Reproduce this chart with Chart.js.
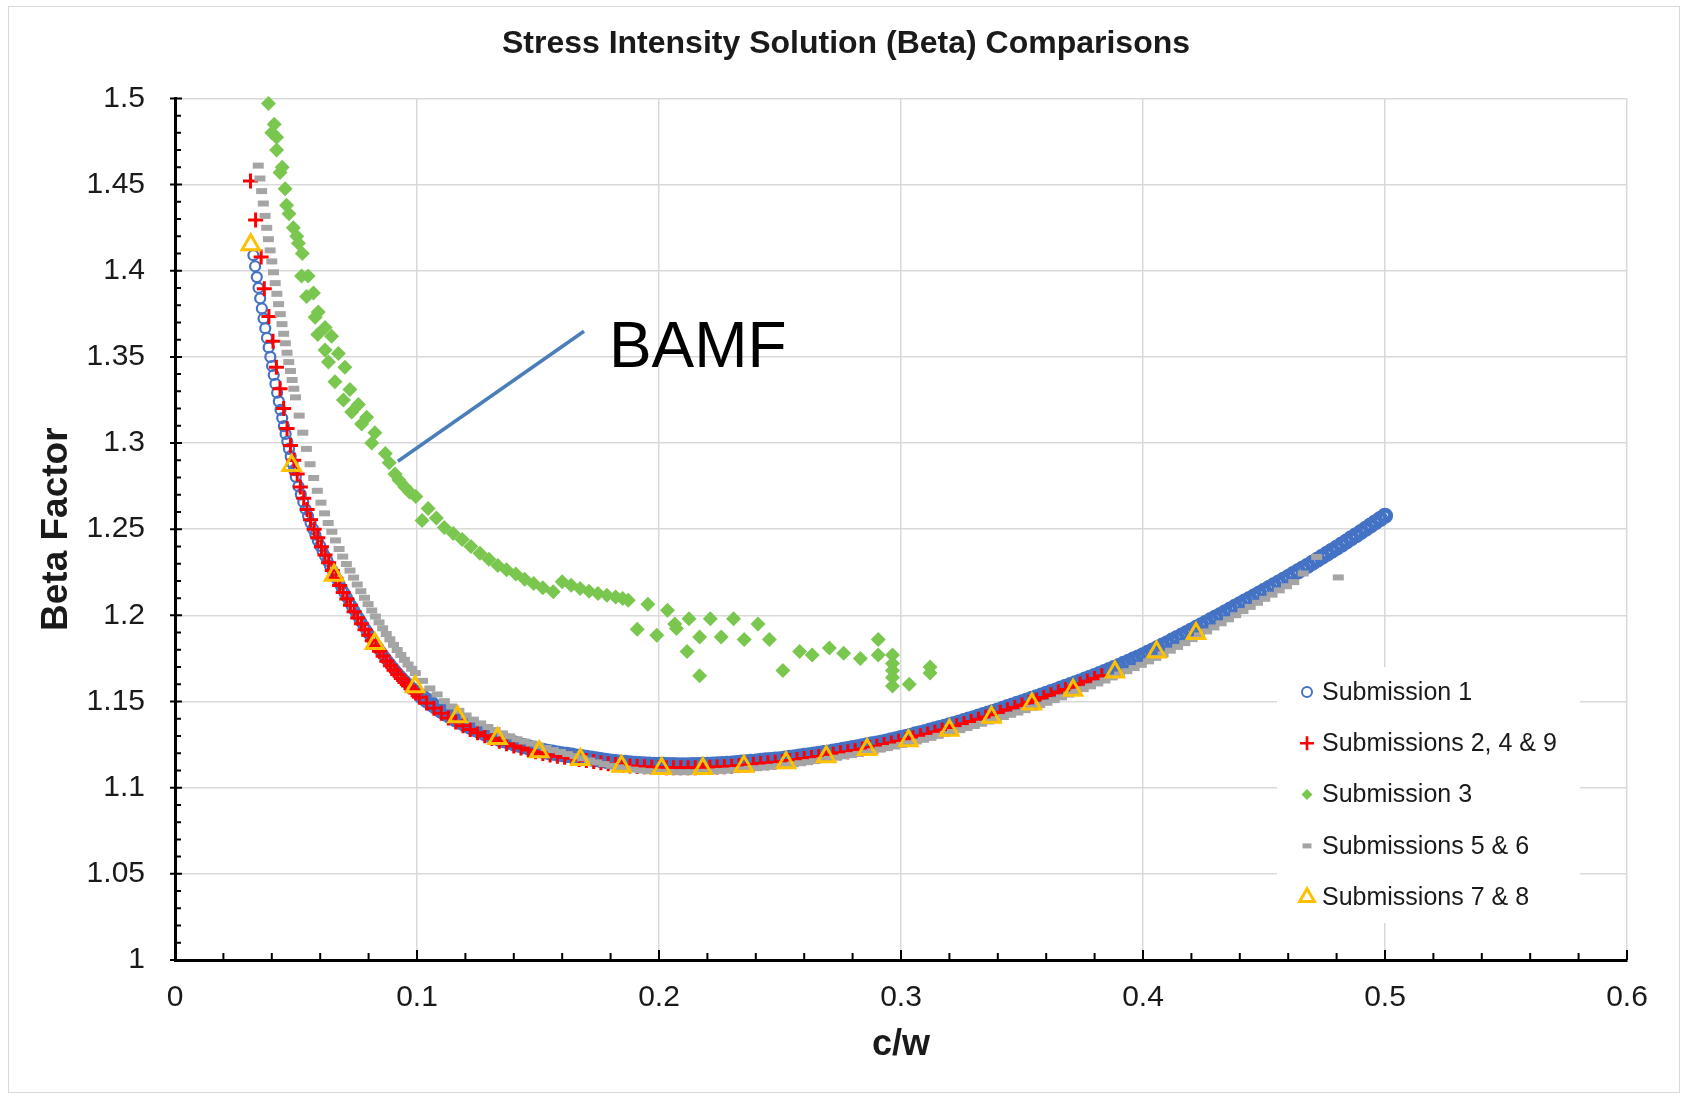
<!DOCTYPE html>
<html>
<head>
<meta charset="utf-8">
<title>Stress Intensity Solution (Beta) Comparisons</title>
<script src="https://cdn.jsdelivr.net/npm/chart.js@4.4.1/dist/chart.umd.min.js"></script>
<style>
  html, body { margin: 0; padding: 0; background: #fff; }
  #wrap { position: relative; width: 1686px; height: 1097px; }
  #frame { position: absolute; left: 8px; top: 6px; width: 1672px; height: 1087px; border: 1.5px solid #d9d9d9; box-sizing: border-box; pointer-events: none; }
  canvas { position: absolute; left: 0; top: 0; }
</style>
</head>
<body>
<div id="wrap">
  <canvas id="betaChart" width="1686" height="1097"></canvas>
  <div id="frame"></div>
</div>
<script>
// values: [c/w, beta]
const xTicks = [0, 0.1, 0.2, 0.3, 0.4, 0.5, 0.6];
const yTicks = [1, 1.05, 1.1, 1.15, 1.2, 1.25, 1.3, 1.35, 1.4, 1.45, 1.5];
const seriesNames = ['Submission 1', 'Submissions 2, 4 & 9', 'Submission 3', 'Submissions 5 & 6', 'Submissions 7 & 8'];

const sub1 = [
  [0.0324,1.409],[0.0331,1.4026],[0.0338,1.3963],[0.0345,1.3901],[0.0352,1.384],[0.0359,1.3781],[0.0366,1.3723],[0.0373,1.3666],[0.038,1.361],[0.0387,1.3555],[0.0394,1.35],[0.0401,1.3447],[0.0408,1.3395],[0.0415,1.3343],[0.0422,1.3292],[0.0429,1.3242],[0.0436,1.3193],[0.0443,1.3145],[0.045,1.3098],[0.0457,1.3053],[0.0464,1.3009],[0.0471,1.2966],[0.0478,1.2924],[0.0485,1.2883],[0.0492,1.2843],[0.0499,1.2804],
  [0.051,1.2749],[0.052,1.2702],[0.053,1.2658],[0.054,1.2616],[0.055,1.2576],[0.056,1.2538],[0.057,1.2502],[0.058,1.2468],[0.059,1.2435],[0.06,1.2403],[0.061,1.2373],[0.062,1.2344],[0.063,1.2316],[0.064,1.2289],[0.065,1.2263],[0.066,1.2236],[0.067,1.2209],[0.068,1.2182],[0.069,1.2156],[0.07,1.213],[0.071,1.2105],[0.072,1.208],[0.073,1.2055],[0.074,1.2031],[0.075,1.2007],[0.076,1.1984],[0.077,1.1961],[0.078,1.1938],[0.079,1.1916],[0.08,1.1894],[0.081,1.1873],[0.082,1.1852],[0.083,1.1831],[0.084,1.1811],[0.085,1.1791],[0.086,1.1772],[0.087,1.1753],[0.088,1.1735],[0.089,1.1717],[0.09,1.17],[0.091,1.1683],[0.092,1.1667],[0.093,1.1651],[0.094,1.1636],[0.095,1.1621],[0.096,1.1607],[0.097,1.1593],[0.098,1.1579],[0.099,1.1566],[0.1,1.1553],
  [0.102,1.1529],[0.104,1.1507],[0.106,1.1486],[0.108,1.1466],[0.11,1.1447],[0.112,1.1429],[0.114,1.1412],[0.116,1.1396],[0.118,1.1381],[0.12,1.1367],[0.122,1.1353],[0.124,1.134],[0.126,1.1328],[0.128,1.1316],[0.13,1.1305],[0.132,1.1294],[0.134,1.1284],[0.136,1.1275],[0.138,1.1266],[0.14,1.1257],[0.142,1.1249],[0.144,1.1241],[0.146,1.1234],[0.148,1.1227],[0.15,1.122],[0.152,1.1214],[0.154,1.1208],[0.156,1.1203],[0.158,1.1198],[0.16,1.1194],[0.162,1.119],[0.164,1.1186],[0.166,1.1181],[0.168,1.1177],[0.17,1.1173],[0.172,1.1169],[0.174,1.1165],[0.176,1.116],[0.178,1.1156],[0.18,1.1152],[0.182,1.1149],[0.184,1.1146],[0.186,1.1144],[0.188,1.1141],[0.19,1.1138],[0.192,1.1137],[0.194,1.1136],[0.196,1.1134],[0.198,1.1133],[0.2,1.1132],
  [0.202,1.1132],[0.204,1.1131],[0.206,1.1131],[0.208,1.113],[0.21,1.113],[0.212,1.113],[0.214,1.1131],[0.216,1.1131],[0.218,1.1132],[0.22,1.1132],[0.222,1.1134],[0.224,1.1135],[0.226,1.1137],[0.228,1.1138],[0.23,1.114],[0.232,1.1142],[0.234,1.1145],[0.236,1.1147],[0.238,1.115],[0.24,1.1152],[0.242,1.1155],[0.244,1.1158],[0.246,1.116],[0.248,1.1163],[0.25,1.1165],[0.252,1.1169],[0.254,1.1173],[0.256,1.1176],[0.258,1.118],[0.26,1.1184],[0.262,1.1188],[0.264,1.1192],[0.266,1.1196],[0.268,1.12],[0.27,1.1204],[0.272,1.1209],[0.274,1.1214],[0.276,1.1219],[0.278,1.1224],[0.28,1.1229],[0.282,1.1234],[0.284,1.124],[0.286,1.1245],[0.288,1.1251],[0.29,1.1256],[0.292,1.1262],[0.294,1.1268],[0.296,1.1275],[0.298,1.1281],[0.3,1.1287],
  [0.302,1.1294],[0.304,1.1301],[0.306,1.1309],[0.308,1.1316],[0.31,1.1323],[0.312,1.1331],[0.314,1.1338],[0.316,1.1346],[0.318,1.1353],[0.32,1.1361],[0.322,1.1369],[0.324,1.1378],[0.326,1.1386],[0.328,1.1395],[0.33,1.1403],[0.332,1.1412],[0.334,1.1421],[0.336,1.143],[0.338,1.1439],[0.34,1.1448],[0.342,1.1457],[0.344,1.1467],[0.346,1.1476],[0.348,1.1486],[0.35,1.1495],[0.352,1.1505],[0.354,1.1515],[0.356,1.1524],[0.358,1.1534],[0.36,1.1544],[0.362,1.1554],[0.364,1.1564],[0.366,1.1575],[0.368,1.1585],[0.37,1.1595],[0.372,1.1606],[0.374,1.1616],[0.376,1.1627],[0.378,1.1637],[0.38,1.1648],[0.382,1.1659],[0.384,1.1671],[0.386,1.1682],[0.388,1.1694],[0.39,1.1705],[0.392,1.1718],[0.394,1.173],[0.396,1.1743],[0.398,1.1755],[0.4,1.1768],
  [0.402,1.1782],[0.404,1.1796],[0.406,1.181],[0.408,1.1824],[0.41,1.1838],[0.412,1.1853],[0.414,1.1868],[0.416,1.1882],[0.418,1.1897],[0.42,1.1912],[0.422,1.1927],[0.424,1.1942],[0.426,1.1957],[0.428,1.1972],[0.43,1.1987],[0.432,1.2002],[0.434,1.2018],[0.436,1.2033],[0.438,1.2049],[0.44,1.2064],[0.442,1.208],[0.444,1.2095],[0.446,1.2111],[0.448,1.2126],[0.45,1.2142],[0.452,1.2158],[0.454,1.2174],[0.456,1.219],[0.458,1.2206],[0.46,1.2222],[0.462,1.2239],[0.464,1.2255],[0.466,1.2272],[0.468,1.2288],[0.47,1.2305],[0.472,1.2322],[0.474,1.234],[0.476,1.2357],[0.478,1.2375],[0.48,1.2392],[0.482,1.241],[0.484,1.2428],[0.486,1.2447],[0.488,1.2465],[0.49,1.2483],[0.492,1.2502],[0.494,1.2521],[0.496,1.254],[0.498,1.2559],[0.5,1.2578]
];

const sub249 = [
  [0.0312,1.452],[0.0333,1.4295],[0.0356,1.408],[0.0369,1.3895],[0.0388,1.3735],[0.0405,1.359],[0.0419,1.344],[0.0434,1.3315],[0.0449,1.32],[0.0463,1.3085],[0.0477,1.2985],[0.0491,1.29],[0.0505,1.282],[0.0518,1.2745],[0.0532,1.268],[0.0546,1.2615],[0.056,1.2555],[0.0575,1.25],
  [0.059,1.245],[0.0605,1.2398],[0.062,1.235],[0.0635,1.2305],[0.065,1.226],[0.0665,1.2215],[0.068,1.2173],[0.0695,1.2133],[0.071,1.2095],[0.0725,1.2058],[0.074,1.2021],[0.0755,1.1985],[0.077,1.1951],[0.0785,1.1917],[0.08,1.1884],[0.0815,1.1852],[0.083,1.1821],[0.0845,1.1791],[0.086,1.1762],[0.0875,1.1734],[0.089,1.1707],[0.0905,1.1681],[0.092,1.1657],[0.0935,1.1633],[0.095,1.1611],[0.0965,1.159],[0.098,1.1569],[0.0995,1.155],
  [0.101,1.1525],[0.104,1.1492],[0.107,1.1461],[0.11,1.1432],[0.113,1.1405],[0.116,1.1381],[0.119,1.1359],[0.122,1.1338],[0.125,1.1319],[0.128,1.1301],[0.131,1.1285],[0.134,1.1269],[0.137,1.1255],[0.14,1.1242],[0.143,1.123],[0.146,1.1219],[0.149,1.1208],[0.152,1.1199],[0.155,1.119],[0.158,1.1183],[0.161,1.1177],[0.164,1.1171],[0.167,1.1164],[0.17,1.1158],[0.173,1.1152],[0.176,1.1145],[0.179,1.1139],[0.182,1.1134],[0.185,1.113],[0.188,1.1126],[0.191,1.1123],[0.194,1.1121],[0.197,1.1119],[0.2,1.1117],
  [0.203,1.1116],[0.206,1.1116],[0.209,1.1115],[0.212,1.1115],[0.215,1.1116],[0.218,1.1117],[0.221,1.1118],[0.224,1.112],[0.227,1.1122],[0.23,1.1125],[0.233,1.1128],[0.236,1.1132],[0.239,1.1136],[0.242,1.114],[0.245,1.1144],[0.248,1.1148],[0.251,1.1152],[0.254,1.1158],[0.257,1.1163],[0.26,1.1169],[0.263,1.1175],[0.266,1.1181],[0.269,1.1187],[0.272,1.1194],[0.275,1.1202],[0.278,1.1209],[0.281,1.1216],[0.284,1.1225],[0.287,1.1233],[0.29,1.1241],[0.293,1.125],[0.296,1.126],[0.299,1.1269],
  [0.302,1.1279],[0.305,1.129],[0.308,1.1301],[0.311,1.1312],[0.314,1.1323],[0.317,1.1335],[0.32,1.1346],[0.323,1.1359],[0.326,1.1371],[0.329,1.1384],[0.332,1.1397],[0.335,1.141],[0.338,1.1424],[0.341,1.1438],[0.344,1.1452],[0.347,1.1466],[0.35,1.148],[0.353,1.1495],[0.356,1.1509],[0.359,1.1524],[0.362,1.1539],[0.365,1.1555],[0.368,1.157],[0.371,1.1585],[0.374,1.1601],[0.377,1.1617],[0.38,1.1633],[0.383,1.165]
];

const sub3 = [
  [0.0386,1.497],[0.04,1.48],[0.041,1.485],[0.042,1.4775],[0.042,1.47],[0.0434,1.457],[0.0443,1.46],[0.0455,1.4476],[0.0461,1.438],[0.0471,1.433],[0.0489,1.425],[0.0503,1.42],[0.051,1.416],[0.0526,1.41],[0.0523,1.397],[0.055,1.397],[0.0544,1.385],[0.0572,1.387],[0.0579,1.373],[0.0592,1.376],[0.059,1.363],[0.062,1.367],[0.062,1.354],[0.0647,1.362],[0.0634,1.347],[0.0675,1.352],[0.0661,1.3355],[0.0702,1.344],[0.0696,1.325],[0.0723,1.331],[0.073,1.318],[0.0758,1.3224],[0.0771,1.311],[0.0792,1.315],[0.0813,1.3],[0.0826,1.306],[0.0869,1.294],[0.0885,1.2885],[0.0909,1.282],[0.0925,1.2785],[0.095,1.2745],[0.097,1.2715],[0.0995,1.269],
  [0.1021,1.255],[0.1046,1.262],[0.108,1.2565],[0.1113,1.251],[0.115,1.2475],[0.1187,1.244],[0.1223,1.24],[0.126,1.236],[0.1297,1.2325],[0.1334,1.229],[0.137,1.2265],[0.1408,1.224],[0.1445,1.221],[0.1482,1.2185],[0.152,1.216],[0.1563,1.2137],[0.16,1.2195],[0.1637,1.2175],[0.1674,1.2156],[0.1711,1.214],[0.1748,1.2127],[0.1785,1.2117],[0.1821,1.2107],[0.185,1.2098],[0.1873,1.2088],
  [0.191,1.192],[0.1954,1.2065],[0.1991,1.1885],[0.2035,1.203],[0.2065,1.195],[0.2072,1.1924],[0.2116,1.179],[0.2124,1.198],[0.2168,1.1875],[0.2168,1.165],[0.2212,1.198],[0.2257,1.1875],[0.2308,1.198],[0.2352,1.186],[0.2409,1.195],[0.2456,1.186],[0.2512,1.168],[0.2581,1.179],[0.2633,1.177],[0.2704,1.181],[0.2763,1.178],[0.2832,1.175],[0.2906,1.186],[0.2906,1.177],[0.2965,1.177],[0.2965,1.172],[0.2965,1.168],[0.2965,1.164],[0.2965,1.159],[0.3034,1.16],[0.312,1.17],[0.312,1.1665]
];

const sub56 = [
  [0.0344,1.461],[0.0351,1.4535],[0.0358,1.4462],[0.0365,1.439],[0.0372,1.4318],[0.0379,1.4249],[0.0386,1.4183],[0.0393,1.4118],[0.04,1.4054],[0.0407,1.3991],[0.0414,1.3928],[0.0421,1.3866],[0.0428,1.3806],[0.0435,1.3748],[0.0442,1.369],[0.0449,1.3634],[0.0456,1.3579],[0.0463,1.3524],[0.047,1.347],[0.0477,1.3418],[0.0484,1.3366],[0.0491,1.3315],[0.0498,1.3265],
  [0.0513,1.3159],[0.0528,1.306],[0.0543,1.2966],[0.0558,1.2877],[0.0573,1.2797],[0.0588,1.2723],[0.0603,1.2654],[0.0618,1.2592],[0.0633,1.2536],[0.0648,1.2485],[0.0663,1.2435],[0.0678,1.2385],[0.0693,1.2341],[0.0708,1.2298],[0.0723,1.226],[0.0738,1.2219],[0.0753,1.2179],[0.0768,1.214],[0.0783,1.2102],[0.0798,1.2065],[0.0813,1.2028],[0.0828,1.1993],[0.0843,1.1959],[0.0858,1.1925],[0.0873,1.1892],[0.0888,1.1861],[0.0903,1.1829],[0.0918,1.1799],[0.0933,1.177],[0.0948,1.1742],[0.0963,1.1715],[0.0978,1.169],[0.0993,1.1665],
  [0.1023,1.162],[0.1053,1.1576],[0.1083,1.1541],[0.1113,1.1502],[0.1143,1.1471],[0.1173,1.1446],[0.1203,1.1419],[0.1233,1.1395],[0.1263,1.1373],[0.1293,1.1352],[0.1323,1.1334],[0.1353,1.1315],[0.1383,1.1298],[0.1413,1.1281],[0.1443,1.1268],[0.1473,1.1256],[0.1503,1.1243],[0.1533,1.123],[0.1563,1.1218],[0.1593,1.1207],[0.1623,1.1195],[0.1653,1.1183],[0.1683,1.117],[0.1713,1.1158],[0.1743,1.1147],[0.1773,1.1137],[0.1803,1.1127],[0.1833,1.1118],[0.1863,1.1111],[0.1893,1.1105],[0.1923,1.11],[0.1953,1.1096],[0.1983,1.1093],
  [0.2013,1.1092],[0.2043,1.1091],[0.2073,1.109],[0.2103,1.109],[0.2133,1.109],[0.2163,1.1091],[0.2193,1.1092],[0.2223,1.1094],[0.2253,1.1097],[0.2283,1.1099],[0.2313,1.1102],[0.2343,1.1106],[0.2373,1.111],[0.2403,1.1113],[0.2433,1.1117],[0.2463,1.1121],[0.2493,1.1125],[0.2523,1.113],[0.2553,1.1136],[0.2583,1.1142],[0.2613,1.1148],[0.2643,1.1154],[0.2673,1.116],[0.2703,1.1167],[0.2733,1.1174],[0.2763,1.1182],[0.2793,1.1189],[0.2823,1.1196],[0.2853,1.1204],[0.2883,1.1212],[0.2913,1.1221],[0.2943,1.123],[0.2973,1.1239],
  [0.3003,1.1248],[0.3033,1.1258],[0.3063,1.1268],[0.3093,1.1278],[0.3123,1.1289],[0.3153,1.1301],[0.3183,1.1312],[0.3213,1.1323],[0.3243,1.1334],[0.3273,1.1346],[0.3303,1.1358],[0.3333,1.1371],[0.3363,1.1384],[0.3393,1.1397],[0.3423,1.141],[0.3453,1.1423],[0.3483,1.1436],[0.3513,1.145],[0.3543,1.1464],[0.3573,1.1479],[0.3603,1.1493],[0.3633,1.1508],[0.3663,1.1524],[0.3693,1.154],[0.3723,1.1556],[0.3753,1.1572],[0.3783,1.1588],[0.3813,1.1605],[0.3843,1.1622],[0.3873,1.164],[0.3903,1.1657],[0.3933,1.1676],[0.3963,1.1694],[0.3993,1.1713],
  [0.4023,1.1733],[0.4053,1.1753],[0.4083,1.1774],[0.4113,1.1795],[0.4143,1.1817],[0.4173,1.1839],[0.4203,1.1862],[0.4233,1.1884],[0.4263,1.1907],[0.4293,1.193],[0.4323,1.1954],[0.4353,1.1977],[0.4383,1.2001],[0.4413,1.2025],[0.4443,1.2049],[0.4473,1.2073],[0.4503,1.2096],[0.4533,1.212],[0.4563,1.2145],[0.4593,1.2169],[0.4623,1.2193],[0.4662,1.2243],[0.4718,1.2339],[0.4807,1.222]
];

const sub78 = [
  [0.0313,1.415],[0.0482,1.287],[0.0657,1.2233],[0.0826,1.1837],[0.0992,1.1585],[0.1168,1.1411],[0.1333,1.1286],[0.1505,1.1208],[0.1675,1.1164],[0.1845,1.1125],[0.2011,1.1112],[0.2181,1.1112],
  [0.2351,1.1125],[0.2525,1.1145],[0.2691,1.1179],[0.286,1.1222],[0.3031,1.1272],[0.32,1.1334],[0.3374,1.1408],[0.3541,1.1485],[0.3711,1.1566],[0.3884,1.1672],[0.4056,1.1788],[0.4219,1.1895]
];

// callout, in data units
const bamfText = 'BAMF';
const bamfTextAt = [0.1793, 1.344];
const bamfLine = [[0.169, 1.3649], [0.0921, 1.2894]];

const FONT = "'Liberation Sans', Arial, Helvetica, sans-serif";
const INK = '#1a1a1a';

function toXY(pts) {
    return pts.map(p => ({ x: p[0], y: p[1] }));
}

function fmt(v) {
    return String(Number(v.toFixed(2)));
}

function marker(label, pts, style, radius, color, fill, width, order) {
    return {
        label: label,
        data: toXY(pts),
        xAxisID: 'x',
        yAxisID: 'y',
        pointStyle: style,
        pointRadius: radius,
        pointHoverRadius: radius,
        pointBorderColor: color,
        pointBackgroundColor: fill,
        pointBorderWidth: width,
        borderColor: color,
        backgroundColor: fill,
        showLine: false,
        clip: false,
        order: order
    };
}

// the overlapping circles merge into a solid band once the curve flattens out
const ringWidth = c => (c.raw && c.raw.x > 0.1) ? 5 : 2.2;
const ringRadius = c => (c.raw && c.raw.x > 0.1) ? 5.6 : 5;

const datasets = [
    marker(seriesNames[0], sub1, 'circle', ringRadius, '#4472C4', 'rgba(255,255,255,0)', ringWidth, 5),
    marker(seriesNames[1], sub249, 'cross', 7.5, '#FF0000', 'rgba(255,0,0,0)', 3, 4),
    marker(seriesNames[2], sub3, 'rectRot', 7.5, '#7AC74F', '#7AC74F', 0, 3),
    marker(seriesNames[3], sub56, 'line', 5.5, '#A5A5A5', '#A5A5A5', 6, 2),
    marker(seriesNames[4], sub78, 'triangle', 10, '#FFC000', 'rgba(255,255,255,0)', 3, 1)
];

// legend marker sizes (a bit smaller than in the plot)
const legendRadius = [5, 7, 5.5, 4.5, 8.5];
const legendWidth = [2, 2.6, 0, 5, 3];

const axisTicks = {
    id: 'axisTicks',
    afterDraw(chart) {
        const { ctx, chartArea: a, scales: { x, y } } = chart;
        ctx.save();
        ctx.strokeStyle = '#000';
        ctx.lineWidth = 2;
        ctx.beginPath();
        for (let i = 0; i <= 30; i++) {
            const px = x.getPixelForValue(i * 0.02);
            const len = i % 5 === 0 ? 10 : 7;
            ctx.moveTo(px, a.bottom);
            ctx.lineTo(px, a.bottom - len);
        }
        for (let i = 0; i <= 50; i++) {
            const py = y.getPixelForValue(1 + i * 0.01);
            if (i % 5 === 0) {
                ctx.moveTo(a.left - 5, py);
                ctx.lineTo(a.left + 7, py);
            } else {
                ctx.moveTo(a.left, py);
                ctx.lineTo(a.left + 6, py);
            }
        }
        ctx.stroke();
        ctx.restore();
    }
};

const callout = {
    id: 'callout',
    afterDatasetsDraw(chart) {
        const { ctx, scales: { x, y } } = chart;
        ctx.save();
        ctx.strokeStyle = '#4A7EBB';
        ctx.lineWidth = 3.5;
        ctx.beginPath();
        ctx.moveTo(x.getPixelForValue(bamfLine[0][0]), y.getPixelForValue(bamfLine[0][1]));
        ctx.lineTo(x.getPixelForValue(bamfLine[1][0]), y.getPixelForValue(bamfLine[1][1]));
        ctx.stroke();
        ctx.fillStyle = '#000';
        ctx.font = '64px ' + FONT;
        ctx.textAlign = 'left';
        ctx.textBaseline = 'alphabetic';
        ctx.fillText(bamfText, x.getPixelForValue(bamfTextAt[0]), y.getPixelForValue(bamfTextAt[1]));
        ctx.restore();
    }
};

const boxLegend = {
    id: 'boxLegend',
    afterDraw(chart) {
        const ctx = chart.ctx;
        const helpers = Chart.helpers || {};
        ctx.save();
        ctx.fillStyle = '#fff';
        ctx.fillRect(1277, 667, 303, 256);
        chart.data.datasets.forEach(function(ds, i) {
            const cy = 692 + i * 51.3;
            const mx = 1307;
            ctx.fillStyle = ds.pointBackgroundColor;
            ctx.strokeStyle = ds.pointBorderColor;
            ctx.lineWidth = legendWidth[i];
            if (helpers.drawPoint) {
                helpers.drawPoint(ctx, {
                    pointStyle: ds.pointStyle,
                    rotation: 0,
                    radius: legendRadius[i],
                    borderWidth: legendWidth[i]
                }, mx, cy);
            } else {
                ctx.beginPath();
                ctx.arc(mx, cy, legendRadius[i], 0, Math.PI * 2);
                ctx.fill();
                ctx.stroke();
            }
            ctx.fillStyle = INK;
            ctx.font = '25px ' + FONT;
            ctx.textAlign = 'left';
            ctx.textBaseline = 'middle';
            ctx.fillText(ds.label, 1322, cy + 1);
        });
        ctx.restore();
    }
};

const ctx = document.getElementById('betaChart').getContext('2d');
new Chart(ctx, {
    type: 'scatter',
    data: { datasets: datasets },
    options: {
        responsive: false,
        animation: false,
        devicePixelRatio: 1,
        events: [],
        layout: { padding: { left: 6, right: 0, top: 1, bottom: 10 } },
        plugins: {
            legend: { display: false },
            tooltip: { enabled: false },
            title: {
                display: true,
                text: 'Stress Intensity Solution (Beta) Comparisons',
                color: INK,
                font: { family: FONT, size: 32, weight: 'bold' },
                padding: { top: 24, bottom: 35 }
            }
        },
        scales: {
            x: {
                type: 'linear',
                position: 'bottom',
                min: 0,
                max: 0.6,
                afterBuildTicks: s => { s.ticks = xTicks.map(v => ({ value: v })); },
                afterFit: s => { s.height = 127; },
                grid: { color: '#d9d9d9', lineWidth: 1.5, drawTicks: false },
                border: { color: '#000', width: 3 },
                ticks: {
                    padding: 20,
                    color: INK,
                    font: { family: FONT, size: 30 },
                    maxRotation: 0,
                    callback: v => fmt(v)
                },
                title: {
                    display: true,
                    text: 'c/w',
                    color: INK,
                    font: { family: FONT, size: 36, weight: 'bold' },
                    padding: { top: 0, bottom: 20 }
                }
            },
            y: {
                type: 'linear',
                position: 'left',
                min: 1,
                max: 1.5,
                afterBuildTicks: s => { s.ticks = yTicks.map(v => ({ value: v })); },
                afterFit: s => { s.width = 169; },
                grid: { color: '#d9d9d9', lineWidth: 1.5, drawTicks: false },
                border: { color: '#000', width: 3 },
                ticks: {
                    padding: 30,
                    color: INK,
                    font: { family: FONT, size: 30 },
                    callback: v => fmt(v)
                },
                title: {
                    display: true,
                    text: 'Beta Factor',
                    color: INK,
                    font: { family: FONT, size: 37, weight: 'bold' },
                    padding: { top: 29, bottom: 0 }
                }
            },
            yr: {
                type: 'linear',
                position: 'right',
                min: 1,
                max: 1.5,
                grid: { display: false, drawTicks: false },
                border: { display: false },
                ticks: { display: false },
                afterFit: s => { s.width = 59; }
            }
        }
    },
    plugins: [callout, axisTicks, boxLegend]
});
</script>
</body>
</html>
